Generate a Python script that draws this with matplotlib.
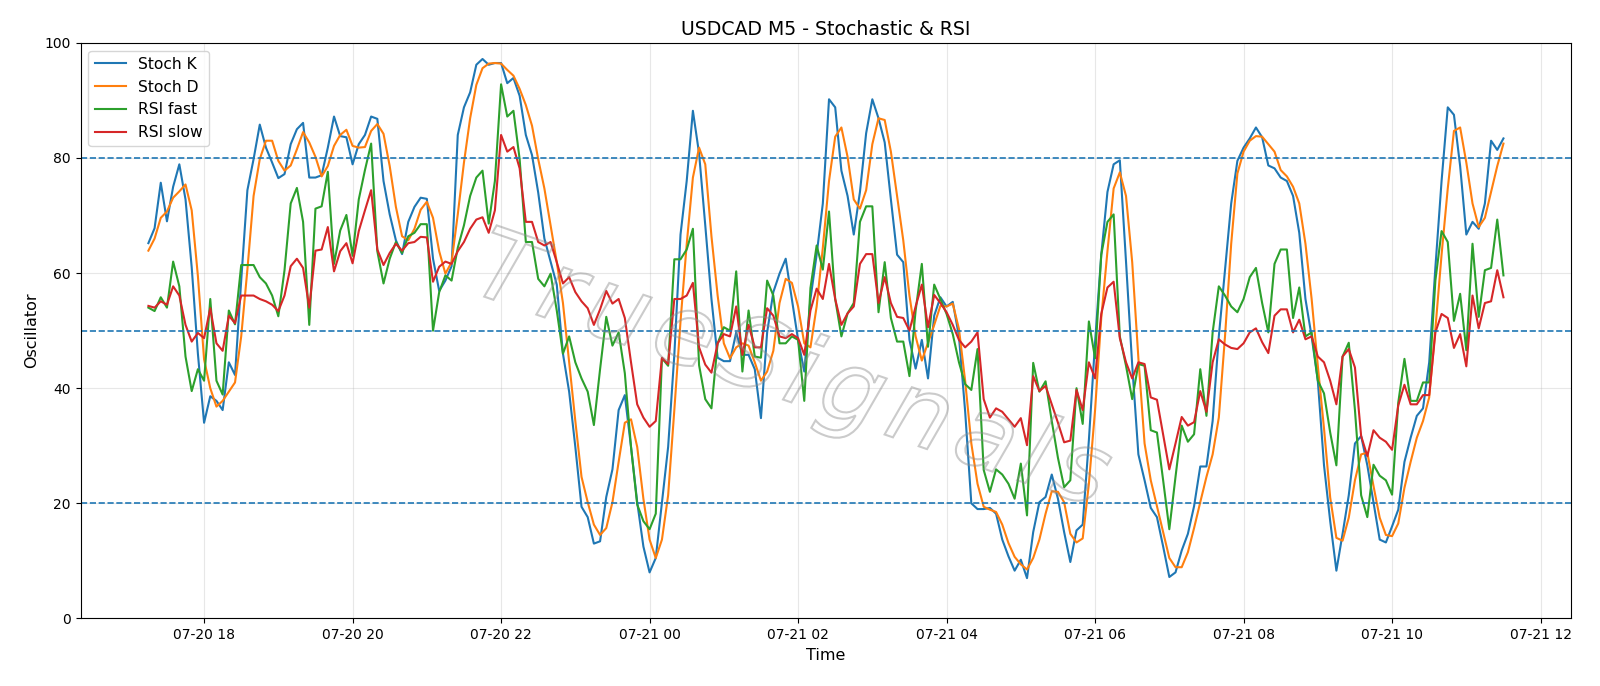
import matplotlib
matplotlib.use("Agg")
import matplotlib.pyplot as plt
import matplotlib.dates as mdates
import pandas as pd
from matplotlib.textpath import TextPath, text_to_path
from matplotlib.font_manager import FontProperties
from matplotlib.patches import PathPatch
from matplotlib.path import Path
from matplotlib.transforms import Affine2D

start_time = "2024-07-20 17:15"
bar_freq = "5min"

stoch_k = [
    65.2, 67.8, 75.7, 69.0, 75.0, 78.9, 72.8, 61.0, 46.0, 34.0,
    38.6, 37.8, 36.2, 44.5, 42.3, 58.7, 74.4, 79.8, 85.8, 81.8,
    79.2, 76.5, 77.2, 82.4, 85.0, 86.1, 76.6, 76.6, 77.0, 81.8,
    87.2, 83.8, 83.6, 78.9, 82.4, 84.0, 87.2, 86.8, 76.0, 70.2,
    65.7, 63.3, 68.9, 71.5, 73.1, 72.9, 62.5, 56.9, 58.7, 61.2,
    84.0, 88.8, 91.4, 96.2, 97.2, 96.2, 96.5, 96.5, 93.0, 93.9,
    90.8, 84.0, 80.5, 74.0, 66.0, 62.0, 58.0, 46.0, 39.4, 29.8,
    19.4, 17.6, 13.0, 13.4, 21.1, 25.9, 36.2, 38.8, 29.8, 20.2,
    12.5, 8.0, 10.5, 20.2, 29.8, 45.8, 66.7, 76.0, 88.2, 80.8,
    68.3, 55.5, 45.3, 44.7, 44.7, 49.7, 45.8, 45.8, 43.3, 34.8,
    49.7, 56.7, 59.9, 62.5, 55.5, 48.4, 42.9, 55.5, 63.2, 72.1,
    90.2, 88.8, 77.8, 73.4, 66.7, 74.1, 84.3, 90.2, 86.9, 82.7,
    72.8, 63.2, 61.9, 48.4, 43.4, 48.4, 41.7, 52.6, 55.8, 54.2,
    55.0, 49.0, 36.0, 20.0, 19.0, 19.0, 19.2, 18.2, 13.7, 10.8,
    8.3, 10.2, 7.0, 15.0, 20.2, 21.1, 25.0, 20.8, 15.0, 9.8,
    15.3, 16.3, 31.0, 48.0, 63.2, 74.1, 78.9, 79.6, 62.0, 44.0,
    28.5, 24.0, 19.2, 17.6, 12.5, 7.2, 8.0, 11.8, 14.7, 19.5,
    26.4, 26.4, 34.3, 49.0, 60.6, 72.1, 79.5, 81.8, 83.4, 85.3,
    83.6, 78.7, 78.2, 76.6, 76.0, 73.4, 67.0, 55.5, 49.0, 41.3,
    26.6, 16.9, 8.3, 14.7, 21.4, 30.4, 31.7, 26.6, 20.2, 13.7,
    13.2, 16.0, 18.9, 27.2, 31.4, 35.2, 36.5, 44.5, 61.0, 76.0,
    88.8, 87.5, 78.6, 66.7, 68.9, 67.7, 72.1, 83.0, 81.4, 83.4,
]

stoch_d = [
    63.9, 66.0, 69.6, 70.7, 73.1, 74.2, 75.4, 70.9, 59.5, 45.0,
    40.0, 36.8, 37.8, 39.4, 41.0, 49.0, 60.6, 73.4, 79.8, 83.0,
    83.0, 79.5, 77.8, 78.7, 81.5, 84.5, 82.7, 80.2, 76.8, 78.6,
    82.1, 84.0, 84.9, 82.1, 81.8, 81.9, 84.7, 85.9, 84.2, 78.6,
    71.5, 66.4, 65.7, 67.7, 71.0, 72.4, 69.6, 63.8, 59.9, 61.9,
    70.2, 79.2, 86.9, 92.7, 95.6, 96.4, 96.5, 96.4, 95.3, 94.3,
    92.0, 89.2, 85.6, 79.8, 74.7, 68.3, 61.9, 54.8, 44.5, 34.3,
    24.6, 20.2, 16.3, 14.5, 15.7, 20.2, 27.2, 34.0, 34.6, 29.8,
    20.8, 13.7, 10.5, 13.7, 21.4, 36.2, 51.6, 65.0, 76.6, 81.8,
    78.9, 66.4, 56.1, 47.8, 45.2, 47.1, 47.8, 47.4, 44.5, 41.3,
    42.9, 46.5, 54.8, 59.0, 58.3, 54.2, 47.8, 47.1, 54.2, 64.4,
    76.0, 83.7, 85.3, 80.2, 72.8, 71.2, 74.4, 82.4, 86.9, 86.6,
    81.1, 73.4, 65.7, 56.1, 49.0, 44.8, 47.9, 51.0, 54.3, 54.2,
    54.7, 50.3, 41.3, 30.4, 23.4, 19.4, 18.9, 18.5, 16.3, 13.1,
    10.7, 9.4, 8.5, 10.5, 13.7, 18.2, 22.1, 22.0, 20.2, 14.7,
    13.2, 13.9, 23.4, 36.2, 52.2, 63.8, 74.7, 77.5, 73.4, 61.9,
    45.2, 30.4, 24.0, 19.5, 15.0, 10.5, 8.9, 8.9, 11.5, 15.7,
    20.2, 24.6, 28.5, 34.9, 49.0, 65.1, 77.3, 81.1, 83.0, 83.8,
    83.7, 82.4, 81.1, 77.9, 76.8, 75.0, 72.1, 65.1, 55.5, 43.9,
    33.0, 21.0, 14.0, 13.5, 17.5, 24.0, 28.5, 28.8, 23.0, 17.5,
    14.5, 14.3, 16.5, 22.7, 27.2, 31.4, 34.3, 38.4, 50.3, 63.2,
    74.7, 84.7, 85.3, 79.2, 72.1, 68.0, 69.6, 74.1, 78.6, 82.5,
]

rsi_fast = [
    54.0, 53.4, 55.8, 54.0, 62.0, 57.7, 45.5, 39.5, 43.3, 41.3,
    55.5, 41.3, 38.9, 53.5, 51.1, 61.4, 61.4, 61.4, 59.3, 58.2,
    56.1, 52.5, 60.5, 72.1, 74.8, 68.9, 51.0, 71.2, 71.6, 77.6,
    61.6, 67.4, 70.1, 63.0, 72.8, 77.9, 82.5, 63.8, 58.2, 62.5,
    65.4, 63.5, 66.4, 67.0, 68.5, 68.5, 50.0, 56.7, 59.6, 58.7,
    64.4, 68.3, 73.4, 76.6, 77.8, 68.6, 76.0, 92.8, 87.2, 88.2,
    79.8, 65.4, 65.4, 59.0, 57.7, 59.9, 53.5, 46.0, 49.0, 44.5,
    41.7, 39.4, 33.6, 43.3, 52.4, 47.4, 49.7, 42.6, 29.8, 19.8,
    16.9, 15.5, 18.2, 45.2, 43.9, 62.4, 62.4, 64.1, 67.7, 44.0,
    38.1, 36.5, 47.8, 50.6, 50.0, 60.3, 42.9, 53.5, 45.5, 45.3,
    58.7, 56.1, 47.8, 47.8, 49.0, 48.4, 37.8, 57.4, 64.8, 60.6,
    70.7, 55.5, 49.0, 53.0, 54.8, 68.9, 71.6, 71.6, 53.2, 61.9,
    52.2, 48.1, 48.1, 42.1, 53.5, 61.6, 47.2, 58.0, 55.5, 52.9,
    49.4, 44.5, 40.7, 39.7, 46.8, 25.8, 22.0, 25.9, 25.0, 23.4,
    20.8, 26.9, 17.9, 44.4, 39.4, 41.2, 34.3, 27.9, 22.8, 24.0,
    40.0, 33.8, 51.6, 45.2, 63.2, 68.9, 70.2, 49.0, 43.9, 38.1,
    44.2, 43.9, 32.7, 32.3, 24.0, 15.5, 24.6, 33.5, 30.7, 32.0,
    43.3, 35.2, 49.7, 57.7, 56.1, 54.2, 53.2, 55.5, 59.3, 60.9,
    54.8, 49.7, 61.6, 64.1, 64.1, 52.2, 57.5, 49.0, 49.7, 41.3,
    39.1, 32.3, 26.6, 45.5, 47.9, 36.2, 21.4, 17.6, 26.7, 24.8,
    24.0, 21.5, 37.5, 45.1, 37.8, 37.8, 41.0, 41.0, 58.7, 67.3,
    65.4, 51.7, 56.4, 46.6, 65.1, 52.4, 60.5, 60.9, 69.3, 59.6,
]

rsi_slow = [
    54.3, 54.0, 55.1, 54.5, 57.7, 56.1, 51.0, 48.1, 49.6, 48.7,
    53.9, 47.8, 46.5, 52.6, 51.3, 56.1, 56.1, 56.1, 55.5, 55.1,
    54.5, 53.4, 56.1, 61.2, 62.5, 60.9, 54.0, 63.9, 64.1, 68.0,
    60.3, 63.8, 65.2, 61.7, 67.3, 70.9, 74.4, 64.1, 61.4, 63.5,
    65.1, 63.9, 65.2, 65.4, 66.3, 66.2, 58.5, 61.1, 62.0, 61.6,
    63.8, 65.4, 67.7, 69.3, 69.7, 67.0, 70.9, 84.0, 81.1, 81.9,
    78.2, 68.9, 68.9, 65.4, 64.8, 65.4, 61.9, 58.2, 59.3, 56.7,
    55.1, 53.9, 51.0, 53.7, 56.9, 54.7, 55.5, 52.2, 44.5, 37.2,
    34.9, 33.3, 34.3, 45.3, 44.2, 55.5, 55.5, 56.1, 58.3, 47.1,
    44.1, 42.7, 47.8, 49.4, 49.0, 54.2, 45.8, 51.0, 47.1, 47.1,
    53.9, 52.6, 49.0, 48.7, 49.4, 48.7, 45.8, 53.5, 57.3, 55.5,
    61.6, 55.5, 51.0, 53.0, 54.2, 61.6, 63.3, 63.3, 54.8, 59.3,
    54.8, 52.4, 52.2, 50.0, 54.2, 58.0, 50.6, 56.2, 54.8, 53.2,
    51.0, 48.4, 47.1, 48.1, 49.7, 38.1, 34.9, 36.5, 35.9, 34.6,
    33.3, 34.8, 30.1, 42.1, 39.5, 40.4, 37.2, 34.0, 30.6, 30.9,
    39.7, 36.2, 44.5, 41.7, 52.9, 57.5, 58.5, 48.7, 44.5, 41.7,
    44.5, 44.2, 38.4, 38.0, 32.0, 25.9, 30.4, 35.0, 33.5, 34.1,
    39.5, 35.9, 44.5, 48.5, 47.6, 47.0, 46.8, 47.8, 49.7, 50.4,
    48.0, 46.1, 52.6, 53.7, 53.7, 49.7, 51.9, 48.5, 49.0, 45.5,
    44.5, 41.3, 37.2, 45.5, 46.8, 43.6, 31.7, 28.2, 32.7, 31.4,
    30.7, 29.3, 37.0, 40.6, 37.2, 37.2, 38.8, 38.8, 49.7, 52.9,
    52.2, 47.0, 49.4, 43.8, 56.1, 50.4, 54.8, 55.1, 60.5, 55.8,
]

levels = [80, 50, 20]
series_labels = ["Stoch K", "Stoch D", "RSI fast", "RSI slow"]
title_text = "USDCAD M5 - Stochastic & RSI"
watermark_text = "TrueSignals"

times = pd.date_range(start=start_time, periods=len(stoch_k), freq=bar_freq)

fig = plt.figure(figsize=(16, 6.86), dpi=100)
ax = fig.add_axes([0.0504, 0.0985, 0.9316, 0.839])

for values, label in zip([stoch_k, stoch_d, rsi_fast, rsi_slow], series_labels):
    ax.plot(times, values, label=label, linewidth=1.5)

for lv in levels:
    ax.axhline(lv, color="#1f77b4", linestyle="--", linewidth=1.2)

ax.set_ylim(0, 100)
ax.grid(True, alpha=0.3)
ax.xaxis.set_major_locator(mdates.HourLocator(interval=2))
ax.xaxis.set_major_formatter(mdates.DateFormatter("%m-%d %H"))
ax.tick_params(labelsize=10)
ax.set_title(title_text, fontsize=13.6)
ax.set_xlabel("Time", fontsize=11.5)
ax.set_ylabel("Oscillator", fontsize=11.5)
ax.legend(loc="upper left", fontsize=11.2)

# watermark: letter-spaced outlined text
wm_size = 98
wm_track = 9
fp = FontProperties(family="DejaVu Sans", style="italic", size=wm_size)
glyph_paths = []
xpos = 0.0
for ch in watermark_text:
    glyph_paths.append(TextPath((xpos, 0), ch, size=wm_size, prop=fp))
    w, h, d = text_to_path.get_text_width_height_descent(ch, fp, ismath=False)
    xpos += w + wm_track
wm_path = Path.make_compound_path(*glyph_paths)
ext = wm_path.get_extents()
cx, cy = (ext.x0 + ext.x1) / 2, (ext.y0 + ext.y1) / 2
wm_tr = (Affine2D().translate(-cx, -cy).rotate_deg(-19)
         .translate(792, 686 - 374))
wm_patch = PathPatch(wm_path, transform=wm_tr, facecolor="none",
                     edgecolor=(0.55, 0.55, 0.55, 0.45), linewidth=1.5,
                     zorder=5)
fig.add_artist(wm_patch)

fig.savefig("out.png", dpi=100)
